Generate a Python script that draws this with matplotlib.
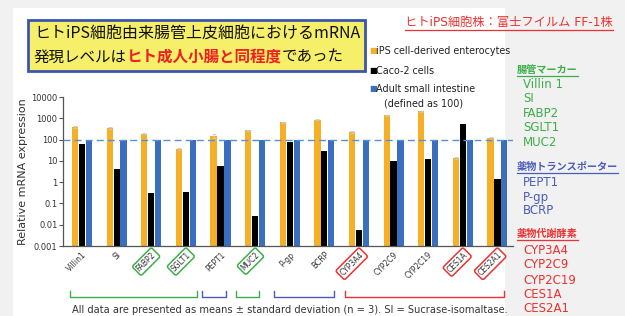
import matplotlib
matplotlib.use('Agg')
import matplotlib.pyplot as plt
import matplotlib.ticker as ticker
from matplotlib.patches import Rectangle
from matplotlib.lines import Line2D
import numpy as np

plt.rcParams['font.family'] = ['DejaVu Sans', 'Noto Sans CJK JP']

# データ
genes = ['Villin1', 'SI', 'FABP2', 'SGLT1', 'PEPT1', 'MUC2', 'P-gp', 'BCRP',
         'CYP3A4', 'CYP2C9', 'CYP2C19', 'CES1A', 'CES2A1']
ips = [400, 350, 190, 38, 150, 270, 650, 850, 230, 1400, 2100, 14, 120]
ips_err = [40, 30, 15, 4, 25, 25, 50, 60, 20, 100, 150, 1.5, 10]
caco2 = [60, 4, 0.3, 0.35, 5.5, 0.025, 80, 28, 0.0056, 9.5, 12.5, 550, 1.4]
adult = [100] * 13
boxed = {'FABP2': '#3cae4a', 'SGLT1': '#3cae4a', 'MUC2': '#3cae4a',
         'CYP3A4': '#ee3030', 'CES1A': '#ee3030', 'CES2A1': '#ee3030'}

yticks = [0.001, 0.01, 0.1, 1, 10, 100, 1000, 10000]
ytick_labels = ['0.001', '0.01', '0.1', '1', '10', '100', '1000', '10000']

# 下の括弧 (カテゴリ位置の範囲, 色)
brackets = [(-0.35, 3.32, '#3cae4a'), (3.47, 4.16, '#4a5cb8'), (4.45, 5.12, '#3cae4a'),
            (5.55, 7.28, '#4a5cb8'), (7.6, 12.2, '#ee3030')]

green = '#3cae4a'
blue_t = '#4a5cb8'
red = '#ee3030'
c_ips = '#f5b027'
c_caco = '#000000'
c_adult = '#3a6fc0'

W, H = 625, 316
fig = plt.figure(figsize=(6.25, 3.16), dpi=100)
fig.patch.set_facecolor('#f1f1f1')
fig.patches.append(Rectangle((13 / W, 0), (505 - 13) / W, 1 - 8 / H, transform=fig.transFigure,
                             facecolor='white', edgecolor='none', zorder=-5))

ax = fig.add_axes([63 / W, 1 - 246 / H, (513 - 63) / W, (246 - 97) / H])
ax.set_facecolor('none')
x = np.arange(len(genes))
bw = 0.18
ax.bar(x - 0.2, ips, bw, color=c_ips, yerr=ips_err, ecolor='#c8c8c8',
       error_kw=dict(capsize=1.5, elinewidth=0.6, capthick=0.6), zorder=2)
ax.bar(x, caco2, bw, color=c_caco, zorder=2)
ax.bar(x + 0.2, adult, bw, color=c_adult, zorder=2)
ax.axhline(100, color='#5b8fd5', lw=1.0, ls=(0, (5, 3)), zorder=3)

ax.set_yscale('log')
ax.set_ylim(0.001, 10000)
ax.set_xlim(-0.55, 12.45)
ax.yaxis.set_major_locator(ticker.FixedLocator(yticks))
ax.yaxis.set_major_formatter(ticker.FixedFormatter(ytick_labels))
ax.yaxis.set_minor_locator(ticker.NullLocator())
ax.tick_params(axis='y', labelsize=6, length=3, width=0.8, color='#555555', labelcolor='#333333', pad=1)
ax.tick_params(axis='x', length=0, pad=3)
for s in ['top', 'right']:
    ax.spines[s].set_visible(False)
for s in ['left', 'bottom']:
    ax.spines[s].set_color('#555555')
    ax.spines[s].set_linewidth(0.9)
ax.set_ylabel('Relative mRNA expression', fontsize=8, color='#333333', labelpad=2)

ax.set_xticks(x)
ax.set_xticklabels(genes, rotation=45, ha='right', rotation_mode='anchor', fontsize=5.5, color='#333333')
for lab in ax.get_xticklabels():
    t = lab.get_text()
    if t in boxed:
        lab.set_bbox(dict(boxstyle='round,pad=0.25', facecolor='white', edgecolor=boxed[t], lw=1.1))

# 括弧
tr = ax.get_xaxis_transform()
for x0, x1, col in brackets:
    ax.add_line(Line2D([x0, x0, x1, x1], [-0.30, -0.342, -0.342, -0.30], transform=tr,
                       color=col, lw=1.0, clip_on=False))

# 凡例
leg = [(51, c_ips, 'iPS cell-derived enterocytes'), (71, c_caco, 'Caco-2 cells'),
       (89, c_adult, 'Adult small intestine')]
for yy, col, txt in leg:
    fig.text(369 / W, 1 - yy / H, '■', color=col, fontsize=6, va='center')
    fig.text(376 / W, 1 - yy / H, txt, color='#222222', fontsize=6.9, va='center')
fig.text(384 / W, 1 - 103 / H, '(defined as 100)', color='#222222', fontsize=6.9, va='center')

# タイトルボックス
fig.patches.append(Rectangle((28 / W, 1 - 71 / H), (365 - 28) / W, (71 - 20) / H, transform=fig.transFigure,
                             facecolor='#f6ef6a', edgecolor='#3a55b0', lw=2, zorder=1))
fig.text(34 / W, 1 - 33 / H, 'ヒトiPS細胞由来腸管上皮細胞におけるmRNA', fontsize=11.5, color='#111111',
         va='center', family=['Noto Sans CJK JP'])
t1 = fig.text(34 / W, 1 - 57 / H, '発現レベルは', fontsize=11.2, color='#111111',
              va='center', family=['Noto Sans CJK JP'])
t2 = fig.text(0, 0, 'ヒト成人小腸と同程度', fontsize=11.2, color='#ee2020', fontweight='bold',
              va='center', family=['Noto Sans CJK JP'])
t3 = fig.text(0, 0, 'であった', fontsize=11.2, color='#111111', va='center', family=['Noto Sans CJK JP'])

fig.canvas.draw()
r = fig.canvas.get_renderer()
inv = fig.transFigure.inverted()
b1 = t1.get_window_extent(r)
t2.set_position((inv.transform((b1.x1, 0))[0], 1 - 57 / H))
fig.canvas.draw()
b2 = t2.get_window_extent(r)
t3.set_position((inv.transform((b2.x1, 0))[0], 1 - 57 / H))


def underlined(xp, yp, txt, col, fs, bold=False):
    t = fig.text(xp / W, 1 - yp / H, txt, color=col, fontsize=fs, va='center',
                 fontweight='bold' if bold else 'normal', family=['DejaVu Sans', 'Noto Sans CJK JP'])
    fig.canvas.draw()
    bb = t.get_window_extent(fig.canvas.get_renderer())
    (xa, ya), (xb, _) = inv.transform([(bb.x0, bb.y0), (bb.x1, bb.y0)])
    fig.add_artist(Line2D([xa, xb], [ya - 1 / H, ya - 1 / H], transform=fig.transFigure, color=col, lw=0.9))


underlined(405, 22, 'ヒトiPS細胞株：富士フイルム FF-1株', red, 8.8)

# 右側のリスト
groups = [
    (70, '腸管マーカー', green, [85, 99, 114, 128, 143], ['Villin 1', 'SI', 'FABP2', 'SGLT1', 'MUC2']),
    (167, '薬物トランスポーター', blue_t, [183, 197, 211], ['PEPT1', 'P-gp', 'BCRP']),
    (234, '薬物代謝酵素', red, [250, 265, 280, 294, 309], ['CYP3A4', 'CYP2C9', 'CYP2C19', 'CES1A', 'CES2A1']),
]
for yh, head, col, ys, items in groups:
    underlined(517, yh, head, col, 7.3, bold=True)
    for yy, it in zip(ys, items):
        fig.text(523 / W, 1 - yy / H, it, color=col, fontsize=8.5, va='center')

fig.text(72 / W, 1 - 310 / H, 'All data are presented as means ± standard deviation (n = 3). SI = Sucrase-isomaltase.',
         fontsize=7.1, color='#333333', va='center')

fig.savefig('out.png', dpi=100, facecolor=fig.get_facecolor())
